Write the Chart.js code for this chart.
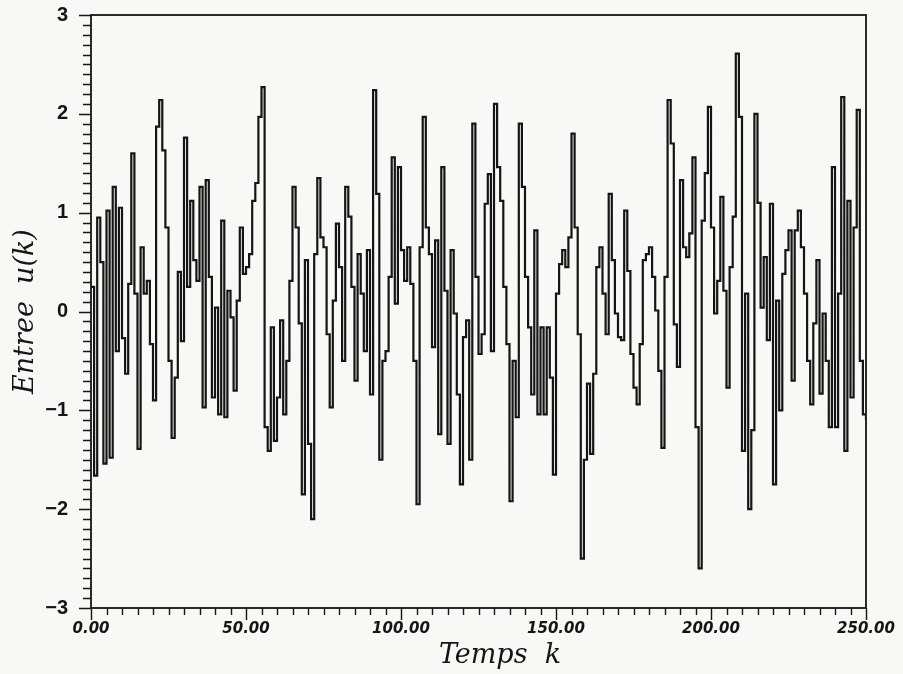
<!DOCTYPE html>
<html>
<head>
<meta charset="utf-8">
<script src="https://cdn.jsdelivr.net/npm/chart.js@4.4.1/dist/chart.umd.min.js"></script>
<style>
  html, body { margin: 0; padding: 0; background: #f8f8f6; }
  canvas { display: block; }
</style>
</head>
<body>
<canvas id="chart" width="903" height="674"></canvas>
<script>
// u(k), k = 0 .. 250
const u000 = [0.25, -1.66, 0.95, 0.5, -1.54, 1.02, -1.48, 1.26, -0.4, 1.05,
    -0.27, -0.63, 0.28, 1.6, 0.18, -1.39, 0.65, 0.18, 0.31, -0.33,
    -0.9, 1.87, 2.14, 1.63, 0.85, -0.5, -1.28, -0.67, 0.4, -0.3,
    1.76, 0.25, 1.12, 0.52, 0.31, 1.26, -0.97, 1.33, 0.35, -0.87,
    0.04, -1.04, 0.92, -1.07, 0.21, -0.06, -0.8, 0.11, 0.85, 0.38];
const u050 = [0.45, 0.58, 1.12, 1.3, 1.97, 2.27, -1.17, -1.41, -0.16, -1.31,
    -0.87, -0.09, -1.04, -0.5, 0.31, 1.26, 0.85, -0.12, -1.85, 0.52,
    -1.34, -2.1, 0.58, 1.35, 0.75, 0.65, -0.23, -0.97, 0.11, 0.89,
    0.45, -0.5, 1.26, 0.96, 0.25, -0.7, 0.58, 0.18, -0.4, 0.62,
    -0.84, 2.24, 1.19, -1.5, -0.5, -0.4, 0.35, 1.56, 0.08, 1.46];
const u100 = [0.62, 0.31, 0.65, 0.28, -0.5, -1.95, 0.65, 1.97, 0.85, 0.58,
    -0.36, 0.72, -1.24, 1.46, 0.21, -1.34, 0.62, -0.02, -0.84, -1.75,
    -0.26, -0.09, -1.5, 1.9, 0.35, -0.43, -0.23, 1.09, 1.39, -0.4,
    2.1, 1.46, 1.12, 0.25, -0.33, -1.92, -0.5, -1.07, 1.9, 1.26,
    0.35, -0.16, -0.84, 0.82, -1.04, -0.16, -1.04, -0.16, -0.67, -1.65];
const u150 = [0.18, 0.48, 0.62, 0.45, 0.75, 1.8, 0.85, -0.23, -2.5, -1.5,
    -0.73, -1.44, -0.63, 0.45, 0.65, 0.18, -0.23, 1.19, 0.52, -0.02,
    -0.26, -0.29, 1.02, 0.41, -0.43, -0.77, -0.94, -0.33, 0.52, 0.58,
    0.65, 0.35, 0.01, -0.6, -1.38, 0.35, 2.14, 1.7, -0.13, -0.56,
    1.33, 0.65, 0.55, 0.79, 1.56, -1.17, -2.6, 0.92, 1.4, 2.07];
const u200 = [0.85, -0.02, 0.31, 1.16, 0.21, -0.77, 0.45, 0.96, 2.61, 1.97,
    -1.41, 0.18, -2.0, -1.2, 2.0, 1.1, 0.04, 0.55, -0.29, 1.09,
    -1.75, 0.11, -1.0, 0.38, 0.62, 0.82, -0.7, 0.82, 1.02, 0.65,
    0.18, -0.5, -0.94, -0.12, 0.52, -0.83, -0.02, -0.5, -1.17, 1.46,
    -1.17, 0.18, 2.17, -1.41, 1.12, -0.87, 0.85, 2.04, -0.5, -1.04,
    -1.1];

const xTicks = [0, 50, 100, 150, 200, 250];
const yTicks = [-3, -2, -1, 0, 1, 2, 3];

const uValues = [].concat(u000, u050, u100, u150, u200);
const points = uValues.map((v, k) => ({ x: k, y: v }));

const ink = '#151515';

// frame round the plot and the small outward ticks of the old plotter
const frameTicks = {
    id: 'frameTicks',
    afterDatasetsDraw(chart) {
        const { ctx, chartArea: a, scales: { x, y } } = chart;
        ctx.save();
        ctx.strokeStyle = ink;
        ctx.lineWidth = 1.8;
        ctx.strokeRect(a.left, a.top, a.right - a.left, a.bottom - a.top);
        ctx.lineWidth = 1.4;
        ctx.beginPath();
        for (let i = -30; i <= 30; i++) {
            const py = Math.round(y.getPixelForValue(i / 10)) + 0.5;
            const major = i % 10 === 0;
            ctx.moveTo(a.left - (major ? 12 : 8), py);
            ctx.lineTo(a.left, py);
        }
        for (let k = 0; k <= 250; k += 5) {
            const px = Math.round(x.getPixelForValue(k)) + 0.5;
            const major = k % 50 === 0;
            ctx.moveTo(px, a.bottom + (major ? 12 : 7));
            ctx.lineTo(px, a.bottom);
        }
        ctx.stroke();
        ctx.restore();
    }
};

new Chart(document.getElementById('chart'), {
    type: 'line',
    data: {
        datasets: [{
            data: points,
            borderColor: ink,
            borderWidth: 2.2,
            stepped: true,
            pointRadius: 0,
            fill: false
        }]
    },
    options: {
        responsive: false,
        animation: false,
        devicePixelRatio: 1,
        layout: { padding: { top: 15, right: 37, left: 0, bottom: 0 } },
        plugins: { legend: { display: false }, tooltip: { enabled: false } },
        scales: {
            x: {
                type: 'linear',
                min: 0,
                max: 250,
                grid: { display: false, drawTicks: false },
                border: { display: false },
                afterBuildTicks: s => { s.ticks = xTicks.map(v => ({ value: v })); },
                afterFit: s => { s.height = 66; s.paddingLeft = 0; s.paddingRight = 0; },
                ticks: {
                    color: ink,
                    padding: 12,
                    maxRotation: 0,
                    font: { family: 'DejaVu Sans', size: 15, weight: 'bold', style: 'italic' },
                    callback: v => v.toFixed(2)
                },
                title: {
                    display: true,
                    text: '     Temps  k',
                    color: ink,
                    padding: { top: 0, bottom: 2 },
                    font: { family: 'DejaVu Serif', size: 27, style: 'italic' }
                }
            },
            y: {
                min: -3,
                max: 3,
                grid: { display: false, drawTicks: false },
                border: { display: false },
                afterBuildTicks: s => { s.ticks = yTicks.map(v => ({ value: v })); },
                afterFit: s => { s.width = 91; s.paddingTop = 0; s.paddingBottom = 0; },
                ticks: {
                    color: ink,
                    padding: 23,
                    font: { family: 'Liberation Sans', size: 20, weight: 'bold' },
                    callback: v => (v < 0 ? '\u2212' + Math.abs(v) : String(v))
                },
                title: {
                    display: true,
                    text: 'Entree  u(k)',
                    color: ink,
                    padding: { top: 10, bottom: 0 },
                    font: { family: 'DejaVu Serif', size: 27, style: 'italic' }
                }
            }
        }
    },
    plugins: [frameTicks]
});
</script>
</body>
</html>
